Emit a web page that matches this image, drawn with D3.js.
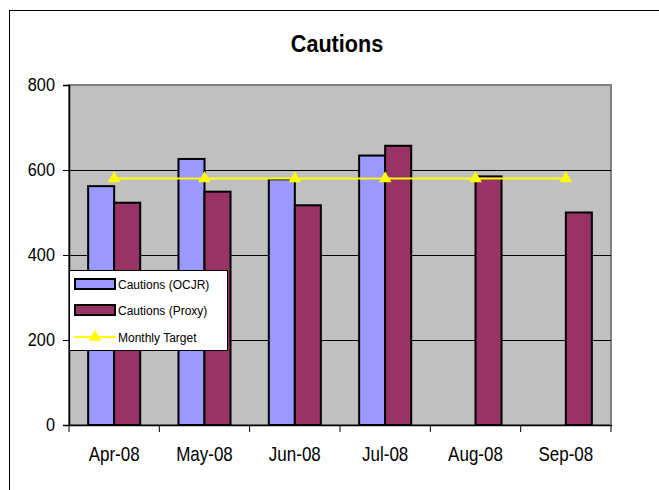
<!DOCTYPE html>
<html lang="en">
<head>
<meta charset="UTF-8">
<title>Cautions</title>
<script src="https://d3js.org/d3.v7.min.js"></script>
<style>
  body { margin: 0; background: #fff; overflow: hidden; }
  text { font-family: "Liberation Sans", Arial, sans-serif; }
</style>
</head>
<body>
<script>
// data
const months = ["Apr-08", "May-08", "Jun-08", "Jul-08", "Aug-08", "Sep-08"];
const ocjr = [562, 626, 578, 634, null, null];
const proxy = [523, 549, 517, 657, 585, 500];
const target = [580, 580, 580, 580, 580, 580];
const yTicks = [0, 200, 400, 600, 800];

const series = [
  { name: "Cautions (OCJR)", values: ocjr, color: "#9999FF" },
  { name: "Cautions (Proxy)", values: proxy, color: "#993366" }
];

const width = 659, height = 490;
const plot = { left: 69, right: 611, top: 85, bottom: 425 };

const svg = d3.select("body").append("svg")
  .attr("width", width).attr("height", height);

// outer chart frame
svg.append("rect")
  .attr("x", 9.5).attr("y", 10.5)
  .attr("width", 700).attr("height", 600)
  .attr("fill", "#fff").attr("stroke", "#000").attr("stroke-width", 1);

// title (narrowed a bit like the original)
svg.append("text")
  .attr("transform", "translate(337,52) scale(0.9,1)")
  .attr("text-anchor", "middle")
  .attr("font-size", "24px").attr("font-weight", "bold")
  .text("Cautions");

const x = d3.scaleBand().domain(months).range([plot.left, plot.right]).padding(0);
const xs = d3.scaleBand().domain(series.map(s => s.name))
  .range([0, x.bandwidth()]).paddingInner(0).paddingOuter(0.735);
const y = d3.scaleLinear().domain([0, 800]).range([plot.bottom, plot.top]);

// plot area
svg.append("rect")
  .attr("x", plot.left).attr("y", plot.top)
  .attr("width", plot.right - plot.left).attr("height", plot.bottom - plot.top)
  .attr("fill", "#C0C0C0").attr("stroke", "#808080").attr("stroke-width", 2);

// gridlines
svg.append("g").selectAll("line")
  .data(yTicks.filter(t => t > 0 && t < 800))
  .join("line")
  .attr("x1", plot.left).attr("x2", plot.right)
  .attr("y1", d => Math.round(y(d)) + 0.5).attr("y2", d => Math.round(y(d)) + 0.5)
  .attr("stroke", "#000").attr("stroke-width", 1);

// bars
series.forEach(s => {
  svg.append("g").selectAll("rect")
    .data(months.map((m, i) => ({ m, v: s.values[i] })).filter(d => d.v != null))
    .join("rect")
    .attr("x", d => x(d.m) + xs(s.name))
    .attr("y", d => y(d.v))
    .attr("width", xs.bandwidth())
    .attr("height", d => y(0) - y(d.v))
    .attr("fill", s.color)
    .attr("stroke", "#000").attr("stroke-width", 2);
});

// axes
const yAxis = svg.append("g")
  .attr("transform", `translate(${plot.left},0)`)
  .call(d3.axisLeft(y).tickValues(yTicks).tickSize(6).tickPadding(10));
yAxis.select(".domain").attr("stroke-width", 1.5);
yAxis.selectAll("text").attr("font-size", "18.5px").attr("fill", "#000")
  .attr("transform", "scale(0.88,1)");

const xAxis = svg.append("g")
  .attr("transform", `translate(0,${plot.bottom})`)
  .call(d3.axisBottom(x).tickSize(0).tickPadding(22));
xAxis.select(".domain").attr("stroke-width", 1.5);
xAxis.selectAll("text").attr("font-size", "20px").attr("fill", "#000")
  .attr("transform", "scale(0.85,1)");
xAxis.selectAll(".tick line").remove();
// category boundary ticks
xAxis.append("g").selectAll("line")
  .data(months.concat(["end"]))
  .join("line")
  .attr("x1", (d, i) => plot.left + i * x.step())
  .attr("x2", (d, i) => plot.left + i * x.step())
  .attr("y1", 0).attr("y2", 7)
  .attr("stroke", "#000");

// target line
const line = d3.line()
  .x((d, i) => x(months[i]) + x.bandwidth() / 2)
  .y(d => y(d));
svg.append("path")
  .datum(target)
  .attr("d", line)
  .attr("fill", "none").attr("stroke", "#FFFF00").attr("stroke-width", 2);

const tri = d3.symbol().type(d3.symbolTriangle).size(70);
svg.append("g").selectAll("path")
  .data(target)
  .join("path")
  .attr("d", tri)
  .attr("transform", (d, i) => `translate(${x(months[i]) + x.bandwidth() / 2},${y(d)})`)
  .attr("fill", "#FFFF00");

// legend
const legend = svg.append("g");
legend.append("rect")
  .attr("x", 69.5).attr("y", 270.5).attr("width", 158).attr("height", 80)
  .attr("fill", "#fff").attr("stroke", "#000");

const legendItems = series.map(s => ({ name: s.name, color: s.color, type: "bar" }))
  .concat([{ name: "Monthly Target", color: "#FFFF00", type: "line" }]);
const rowY = [284, 310, 337];

legendItems.forEach((d, i) => {
  const g = legend.append("g").attr("transform", `translate(0,${rowY[i]})`);
  if (d.type === "bar") {
    g.append("rect")
      .attr("x", 75).attr("y", -5).attr("width", 40).attr("height", 10)
      .attr("fill", d.color).attr("stroke", "#000").attr("stroke-width", 2);
  } else {
    g.append("line")
      .attr("x1", 74).attr("x2", 116).attr("y1", 0).attr("y2", 0)
      .attr("stroke", d.color).attr("stroke-width", 2);
    g.append("path").attr("d", tri).attr("transform", "translate(95,0)").attr("fill", d.color);
  }
  g.append("text")
    .attr("x", 118).attr("y", 4.5)
    .attr("font-size", "12px").attr("fill", "#000")
    .text(d.name);
});
</script>
</body>
</html>
